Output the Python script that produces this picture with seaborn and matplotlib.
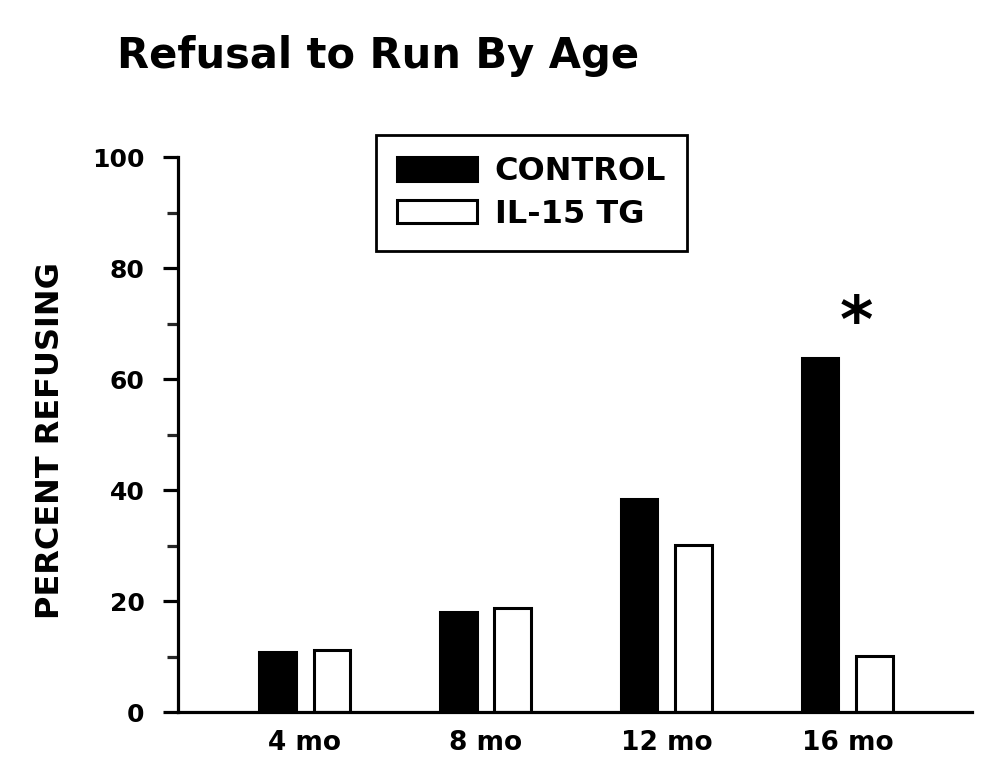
import pandas as pd
import matplotlib.pyplot as plt
import seaborn as sns
from matplotlib.patches import Patch
from matplotlib.ticker import MultipleLocator

# Data
ages = ["4 mo", "8 mo", "12 mo", "16 mo"]
control = [10.8, 18.0, 38.3, 63.8]
il15_tg = [11.2, 18.7, 30.1, 10.1]
groups = ["CONTROL", "IL-15 TG"]

df = pd.DataFrame({
    "age": ages * 2,
    "percent": control + il15_tg,
    "group": [groups[0]] * len(ages) + [groups[1]] * len(ages),
})

sns.set_style("ticks")
plt.rcParams["font.family"] = ["DejaVu Sans"]
plt.rcParams["font.weight"] = "bold"

fig = plt.figure(figsize=(9.91, 7.69), dpi=100)
ax = fig.add_axes([0.1796, 0.0741, 0.8014, 0.7217])

sns.barplot(
    data=df, x="age", y="percent", hue="group",
    palette={"CONTROL": "black", "IL-15 TG": "white"},
    edgecolor="black", linewidth=2.2,
    width=0.6, gap=0.33, ax=ax,
)

# Axes styling
ax.set_xlim(-0.70, 3.69)
ax.set_ylim(0, 100)
ax.yaxis.set_major_locator(MultipleLocator(20))
ax.yaxis.set_minor_locator(MultipleLocator(10))
for side in ["top", "right"]:
    ax.spines[side].set_visible(False)
for side in ["left", "bottom"]:
    ax.spines[side].set_linewidth(2.3)
    ax.spines[side].set_color("black")
ax.tick_params(axis="y", which="major", length=11, width=2.3, pad=13,
               labelsize=18, colors="black")
ax.tick_params(axis="y", which="minor", length=8, width=2.3)
ax.tick_params(axis="x", length=0, pad=13, labelsize=19, colors="black")
for lbl in ax.get_xticklabels() + ax.get_yticklabels():
    lbl.set_fontweight("bold")

ax.set_xlabel("")
ax.set_ylabel("PERCENT REFUSING", fontsize=23, fontweight="bold",
              color="black")
ax.yaxis.set_label_coords(-0.141, 0.49)

# Significance marker
ax.text(3.05, 70, "*", ha="center", va="center", fontsize=46,
        fontweight="bold", color="black")

# Legend
handles = [
    Patch(facecolor="black", edgecolor="black", linewidth=2.2,
          joinstyle="round", label="CONTROL"),
    Patch(facecolor="white", edgecolor="black", linewidth=2.2,
          joinstyle="round", label="IL-15 TG"),
]
leg = ax.legend(
    handles=handles, loc="upper left", bbox_to_anchor=(0.249, 1.04),
    borderaxespad=0, fancybox=False, frameon=True, edgecolor="black",
    framealpha=1, prop={"size": 23, "weight": "bold"}, labelcolor="black",
    handlelength=2.5, handleheight=0.74, handletextpad=0.55,
    borderpad=0.67, labelspacing=0.37,
)
leg.get_frame().set_linewidth(2)

fig.text(0.118, 0.9116, "Refusal to Run By Age", fontsize=30,
         fontweight="bold", ha="left", va="baseline", color="black")

fig.savefig("out.png", dpi=100)
